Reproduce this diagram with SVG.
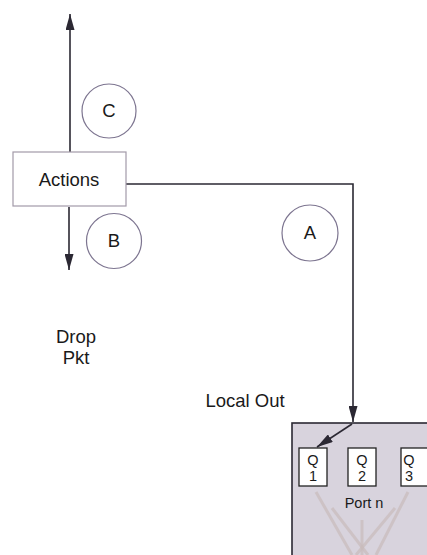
<svg xmlns="http://www.w3.org/2000/svg" width="427" height="555" viewBox="0 0 427 555">
<defs>
<marker id="ahl" viewBox="0 0 10 10" refX="10" refY="5" markerWidth="16" markerHeight="9" orient="auto" markerUnits="userSpaceOnUse" preserveAspectRatio="none">
<path d="M0,0 L10,5 L0,10 z" fill="#2b2833"/>
</marker>
</defs>
<style>
.t{font-family:"Liberation Sans",Arial,sans-serif;font-size:18.5px;fill:#1a1a1a;text-anchor:middle}
.ts{font-family:"Liberation Sans",Arial,sans-serif;font-size:14.5px;fill:#1a1a1a;text-anchor:middle}
.c{fill:none;stroke:#7d7590;stroke-width:1.2}
.ln{fill:none;stroke:#2b2833;stroke-width:1.6}
.q{fill:#ffffff;stroke:#222;stroke-width:1.3}
.fan{stroke:#c9bcbc;stroke-width:3;opacity:0.7}
</style>
<rect width="427" height="555" fill="#ffffff"/>
<g id="connectors">
<line class="ln" x1="70" y1="152" x2="70" y2="14" marker-end="url(#ahl)"/>
<line class="ln" x1="69" y1="207" x2="69" y2="270" marker-end="url(#ahl)"/>
<polyline class="ln" points="126,184 353,184 353,422" marker-end="url(#ahl)"/>
</g>
<g id="actions">
<rect x="13" y="152" width="113" height="54" fill="#ffffff" stroke="#a29aa8" stroke-width="1.2"/>
<text class="t" x="69" y="186">Actions</text>
</g>
<g id="circle-c">
<circle class="c" cx="109" cy="111" r="27"/>
<text class="t" x="109" y="117">C</text>
</g>
<g id="circle-b">
<circle class="c" cx="114" cy="241" r="27.5"/>
<text class="t" x="114" y="247">B</text>
</g>
<g id="circle-a">
<circle class="c" cx="310" cy="233" r="28"/>
<text class="t" x="310" y="239">A</text>
</g>
<g id="drop-pkt">
<text class="t" x="76" y="343">Drop</text>
<text class="t" x="76" y="364">Pkt</text>
</g>
<g id="local-out">
<text class="t" x="245" y="407">Local Out</text>
</g>
<g id="port-n">
<rect x="292" y="423" width="140" height="140" fill="#d8d3dd" stroke="#2b2833" stroke-width="1.6"/>
<line class="fan" x1="316" y1="492" x2="352" y2="555"/>
<line class="fan" x1="332" y1="508" x2="368" y2="555"/>
<line class="fan" x1="362" y1="520" x2="362" y2="555"/>
<line class="fan" x1="395" y1="508" x2="356" y2="555"/>
<line class="fan" x1="408" y1="492" x2="376" y2="555"/>
<line class="ln" x1="352" y1="424" x2="317" y2="447" marker-end="url(#ahl)"/>
<g id="q1">
<rect class="q" x="299" y="448" width="28" height="38"/>
<text class="ts" x="313" y="465">Q</text>
<text class="ts" x="313" y="481">1</text>
</g>
<g id="q2">
<rect class="q" x="348" y="448" width="28" height="38"/>
<text class="ts" x="362" y="465">Q</text>
<text class="ts" x="362" y="481">2</text>
</g>
<g id="q3">
<rect class="q" x="401" y="448" width="30" height="38"/>
<text class="ts" x="409" y="465">Q</text>
<text class="ts" x="409" y="481">3</text>
</g>
<text class="ts" x="364" y="508">Port n</text>
</g>
</svg>
